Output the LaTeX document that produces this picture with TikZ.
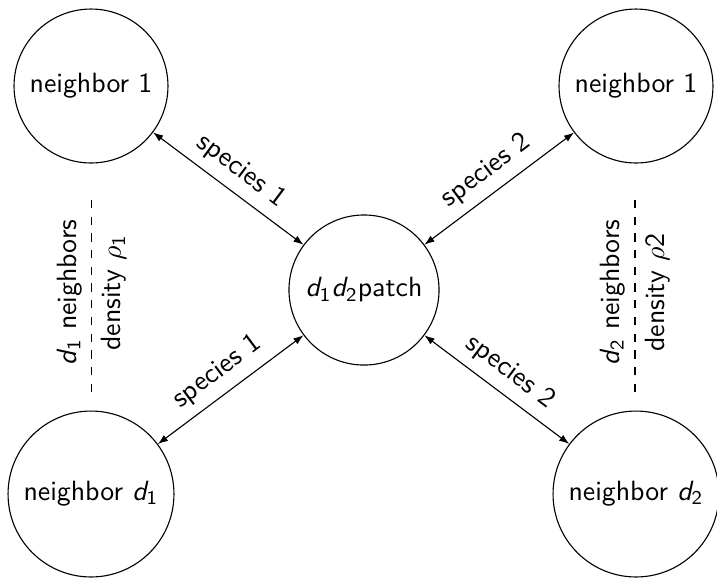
\documentclass[tikz,border=0pt]{standalone}
\usepackage{fontspec}
\usepackage{amstext}
\usetikzlibrary{arrows.meta}
\newcommand{\dsub}[1]{\textit{d}_{\textsf{#1}}}
\begin{document}
\begin{tikzpicture}[x=0.3592pt, y=-0.3592pt, font=\sffamily,
  circ/.style={circle, draw, inner sep=0pt, line width=0.4pt},
  link/.style={{Latex[length=3.6pt,width=2.6pt]}-{Latex[length=3.6pt,width=2.6pt]}},
  lab/.style={midway, sloped, above},
  labb/.style={midway, sloped, below}]
\useasboundingbox (0,0) rectangle (717,578);
\node[circ, minimum size=55.3pt] (n1l) at (91,86) {neighbor 1};
\node[circ, minimum size=55.3pt] (n1r) at (636,86) {neighbor 1};
\node[circ, minimum size=59.6pt] (ndl) at (91,494) {neighbor $\dsub{1}$};
\node[circ, minimum size=59.6pt] (ndr) at (636,494) {neighbor $\dsub{2}$};
\node[circ, minimum size=53.9pt] (p) at (364,290) {$\dsub{1}\dsub{2}$patch};
\draw[link] (n1l) -- node[lab]{species 1} (p);
\draw[link] (ndl) -- node[lab]{species 1} (p);
\draw[link] (p) -- node[lab]{species 2} (n1r);
\draw[link] (p) -- node[lab]{species 2} (ndr);
\coordinate (la) at (91.7,392);
\coordinate (lb) at (91.7,193);
\coordinate (ra) at (635,392);
\coordinate (rb) at (635,193);
\draw[dashed] (la) -- node[lab]{$\dsub{1}$ neighbors} node[labb]{density $\rho_{\textsf{1}}$} (lb);
\draw[dashed] (ra) -- node[lab]{$\dsub{2}$ neighbors} node[labb]{density $\rho$2} (rb);
\end{tikzpicture}
\end{document}
